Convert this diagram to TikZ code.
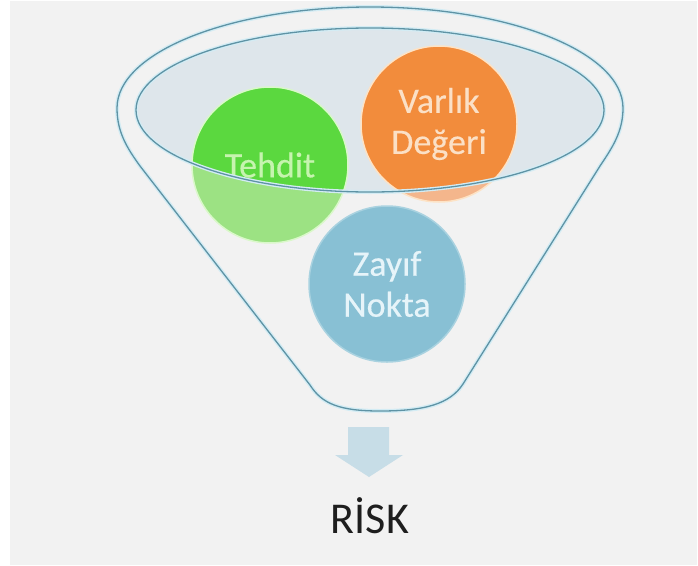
\documentclass[tikz,border=0pt]{standalone}
\usepackage{fontspec}
\setmainfont{Carlito}
\newfontfamily\bubblefont[FakeBold=0.35]{Carlito}
\definecolor{bgray}{HTML}{F2F2F2}
\definecolor{edgecol}{HTML}{5E93A5}
\definecolor{halocol}{HTML}{D3ECF4}
\definecolor{ellfill}{HTML}{DEE6EB}
\definecolor{greenS}{HTML}{5BD83F}
\definecolor{greenL}{HTML}{9CE283}
\definecolor{greenR}{HTML}{DAF8CA}
\definecolor{greenT}{HTML}{C6F4AF}
\definecolor{orangeS}{HTML}{F28C3C}
\definecolor{orangeL}{HTML}{F4B68C}
\definecolor{orangeR}{HTML}{FDE3C6}
\definecolor{orangeT}{HTML}{FBE0C6}
\definecolor{blueS}{HTML}{88C0D4}
\definecolor{blueR}{HTML}{A9D2E0}
\definecolor{blueT}{HTML}{E6F4F9}
\definecolor{arrowcol}{HTML}{C7DDE7}
\definecolor{riskcol}{HTML}{1E1E1E}
\tikzset{
  bubble/.style={circle, minimum size=156pt, inner sep=0pt, line width=1.5pt, align=center,
    font=\bubblefont\fontsize{36}{41}\selectfont},
  outline/.style={line width=1.3pt, draw=edgecol},
  haloline/.style={line width=4pt, draw=halocol},
}
\def\funnelpath{(117,-108) arc[start angle=180,end angle=0,x radius=253,y radius=101]
  .. controls (623,-132) and (612,-148) .. (600,-166)
  -- (463,-384) .. controls (450,-404) and (425,-411) .. (380,-411)
  .. controls (340,-411) and (322,-404) .. (310,-385)
  -- (140,-166) .. controls (127,-148) and (117,-132) .. (117,-108) -- cycle}
\begin{document}
\begin{tikzpicture}[x=1pt,y=1pt]
\useasboundingbox (0,0) rectangle (698,-565);
\fill[white] (0,0) rectangle (698,-565);
\fill[bgray] (10,-1) rectangle (697,-565);
% inner ellipse fill
\coordinate (ec) at (370,-110);
\fill[ellfill] (ec) ellipse[x radius=234, y radius=82];
% circle centres
\coordinate (ct) at (270,-165);
\coordinate (cv) at (439,-124);
\coordinate (cz) at (387,-284);
% light fills
\fill[greenL] (ct) circle (78);
\fill[orangeL] (cv) circle (78);
\fill[blueS] (cz) circle (78);
% saturated parts inside ellipse
\begin{scope}
  \clip (ec) ellipse[x radius=234, y radius=82];
  \fill[greenS] (ct) circle (78);
  \fill[orangeS] (cv) circle (78);
\end{scope}
% bubbles with text
\node[bubble, draw=greenR, text=greenT] (tehdit) at (ct) {Tehdit};
\node[bubble, draw=orangeR, text=orangeT] (varlik) at (cv) {Varlık\\Değeri};
\node[bubble, draw=blueR, text=blueT] (zayif) at (cz) {Zayıf\\Nokta};
% ellipse outline
\draw[haloline] (ec) ellipse[x radius=234, y radius=82];
\draw[outline] (ec) ellipse[x radius=234, y radius=82];
% funnel outline
\draw[haloline] \funnelpath;
\draw[outline] \funnelpath;
% arrow
\fill[arrowcol] (348,-427) -- (389,-427) -- (389,-455) -- (403,-455) -- (369,-477)
  -- (335,-455) -- (348,-455) -- cycle;
% risk
\node[anchor=base, text=riskcol, font=\fontsize{44}{50}\selectfont, inner sep=0pt] (risk) at (370,-533) {RİSK};
\end{tikzpicture}
\end{document}
